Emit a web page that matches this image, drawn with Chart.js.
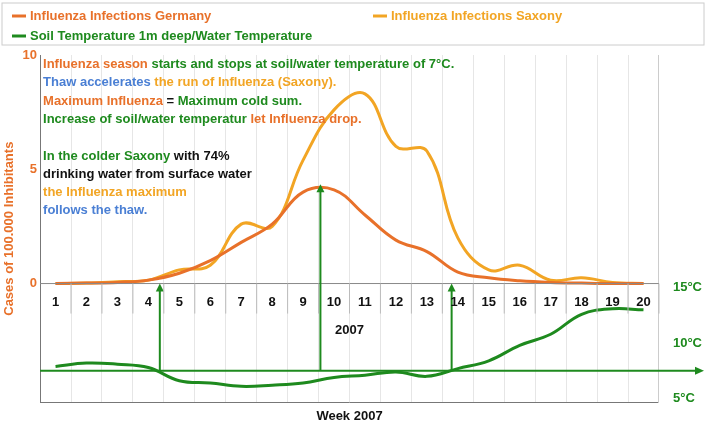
<!DOCTYPE html>
<html><head><meta charset="utf-8">
<script src="https://cdn.jsdelivr.net/npm/chart.js@4"></script>
<style>body{margin:0;background:#fff}#wrap{width:708px;height:436px}</style>
</head><body><div id="wrap"><canvas id="c"></canvas></div>
<script>
var weeks = [1,2,3,4,5,6,7,8,9,10,11,12,13,14,15,16,17,18,19,20];
var germany = [0,0.02,0.05,0.15,0.45,1.0,1.8,2.6,4.0,4.1,3.0,1.9,1.4,0.5,0.25,0.12,0.05,0.02,0,0];
var saxony = [0,0.02,0.08,0.15,0.6,0.8,2.6,2.5,5.4,7.6,8.3,6.0,5.8,2.0,0.6,0.8,0.15,0.25,0.05,0];
var soilTemp = [7.9,8.2,8.1,7.8,6.6,6.4,6.1,6.2,6.4,6.9,7.1,7.4,7.0,7.7,8.4,9.8,10.8,12.6,13.1,13.0];
var thresholdTemp = 7.5;
var arrowWeeks = [4.37, 9.56, 13.8];
var arrowTops = [0, 4.35, 0];

var ORANGE = '#e8712a', LORANGE = '#f2a524', GREEN = '#1e8a1e', BLUE = '#4a7fd4', BLACK = '#111';
function pts(arr){ return weeks.map(function(w,i){ return {x:w, y:arr[i]}; }); }

var notes = [
  [['Influenza season',ORANGE],[' starts and stops at soil/water temperature of 7°C.',GREEN]],
  [['Thaw accelerates',BLUE],[' the run of Influenza (Saxony).',LORANGE]],
  [['Maximum Influenza',ORANGE],[' = ',BLACK],['Maximum cold sum.',GREEN]],
  [['Increase of soil/water temperatur',GREEN],[' let Influenza drop.',ORANGE]],
  [],
  [['In the colder Saxony',GREEN],[' with 74%',BLACK]],
  [['drinking water from surface water',BLACK]],
  [['the Influenza maximum',LORANGE]],
  [['follows the thaw.',BLUE]]
];

var extras = {
  id: 'extras',
  afterDatasetsDraw: function(chart){
    var ctx = chart.ctx, x = chart.scales.x, y = chart.scales.y, t = chart.scales.t, a = chart.chartArea;
    ctx.save();
    // zero line
    ctx.strokeStyle = '#888'; ctx.lineWidth = 1;
    ctx.beginPath(); ctx.moveTo(a.left, y.getPixelForValue(0)); ctx.lineTo(a.right, y.getPixelForValue(0)); ctx.stroke();
    // arrows
    ctx.strokeStyle = GREEN; ctx.fillStyle = GREEN; ctx.lineWidth = 2;
    var ty = t.getPixelForValue(thresholdTemp);
    ctx.beginPath(); ctx.moveTo(a.left, ty); ctx.lineTo(chart.width - 12, ty); ctx.stroke();
    ctx.beginPath(); ctx.moveTo(chart.width - 4, ty); ctx.lineTo(chart.width - 13, ty - 4); ctx.lineTo(chart.width - 13, ty + 4); ctx.fill();
    arrowWeeks.forEach(function(w, i){
      var px = x.getPixelForValue(w), top = y.getPixelForValue(arrowTops[i]);
      ctx.beginPath(); ctx.moveTo(px, ty); ctx.lineTo(px, top + 6); ctx.stroke();
      ctx.beginPath(); ctx.moveTo(px, top); ctx.lineTo(px - 4, top + 8); ctx.lineTo(px + 4, top + 8); ctx.fill();
    });
    // week labels on zero line
    ctx.font = 'bold 13px "Liberation Sans", Arial';
    ctx.fillStyle = BLACK; ctx.textAlign = 'center'; ctx.textBaseline = 'middle';
    var zy = y.getPixelForValue(0);
    weeks.forEach(function(w){ ctx.fillText(String(w), x.getPixelForValue(w), zy + 19); });
    ctx.strokeStyle = '#bbb'; ctx.lineWidth = 1;
    weeks.forEach(function(w){ var px = x.getPixelForValue(w + 0.5); ctx.beginPath(); ctx.moveTo(px, zy); ctx.lineTo(px, zy + 30); ctx.stroke(); });
    ctx.fillText('2007', x.getPixelForValue(10.5), zy + 47);
    // notes
    ctx.textAlign = 'left'; ctx.textBaseline = 'alphabetic';
    notes.forEach(function(line, i){
      var cx = a.left + 3, cy = 68 + i * 18.3;
      line.forEach(function(seg){ ctx.fillStyle = seg[1]; ctx.fillText(seg[0], cx, cy); cx += ctx.measureText(seg[0]).width; });
    });
    // legend
    ctx.strokeStyle = '#ccc'; ctx.strokeRect(2, 3, 702, 42);
    var leg = [['Influenza Infections Germany', ORANGE, 12, 16], ['Influenza Infections Saxony', LORANGE, 373, 16], ['Soil Temperature 1m deep/Water Temperature', GREEN, 12, 36]];
    leg.forEach(function(l){
      ctx.strokeStyle = l[1]; ctx.lineWidth = 3;
      ctx.beginPath(); ctx.moveTo(l[2], l[3]); ctx.lineTo(l[2] + 14, l[3]); ctx.stroke();
      ctx.fillStyle = l[1]; ctx.textBaseline = 'middle'; ctx.fillText(l[0], l[2] + 18, l[3]);
    });
    ctx.restore();
  }
};

new Chart(document.getElementById('c'), {
  type: 'line',
  data: {
    datasets: [
      { label: 'Influenza Infections Germany', data: pts(germany), borderColor: ORANGE, yAxisID: 'y', borderWidth: 3, pointRadius: 0, tension: 0.4 },
      { label: 'Influenza Infections Saxony', data: pts(saxony), borderColor: LORANGE, yAxisID: 'y', borderWidth: 3, pointRadius: 0, tension: 0.4 },
      { label: 'Soil Temperature 1m deep/Water Temperature', data: pts(soilTemp), borderColor: GREEN, yAxisID: 't', borderWidth: 3, pointRadius: 0, tension: 0.4 }
    ]
  },
  plugins: [extras],
  options: {
    responsive: true, maintainAspectRatio: false, animation: false,
    layout: { padding: { top: 55, bottom: 8, right: 0, left: 0 } },
    plugins: { legend: { display: false }, tooltip: { enabled: false } },
    scales: {
      x: { type: 'linear', min: 0.5, max: 20.5,
        ticks: { display: false, stepSize: 1 },
        afterBuildTicks: function(s){ s.ticks = weeks.map(function(w){ return {value: w + 0.5}; }); s.ticks.unshift({value: 0.5}); },
        grid: { color: '#e6e6e6', drawTicks: false },
        border: { color: '#777' },
        title: { display: true, text: 'Week 2007', color: BLACK, font: { family: '"Liberation Sans", Arial', size: 13, weight: 'bold' }, padding: { top: 6 } } },
      y: { position: 'left', min: -5.2, max: 10,
        afterBuildTicks: function(s){ s.ticks = [{value:0},{value:5},{value:10}]; },
        ticks: { color: ORANGE, font: { family: '"Liberation Sans", Arial', size: 13, weight: 'bold' }, padding: 3 },
        grid: { display: false, drawTicks: false }, border: { color: '#777' },
        title: { display: true, text: 'Cases of 100.000 Inhibitants', color: ORANGE, padding: 2, font: { family: '"Liberation Sans", Arial', size: 13, weight: 'bold' } } },
      t: { position: 'right', min: 4.65, max: 36,
        afterBuildTicks: function(s){ s.ticks = [{value:5},{value:10},{value:15}]; },
        ticks: { color: GREEN, font: { family: '"Liberation Sans", Arial', size: 13, weight: 'bold' }, padding: 6, callback: function(v){ return v + '°C'; } },
        grid: { display: false }, border: { color: '#ccc' } }
    }
  }
});
</script></body></html>
